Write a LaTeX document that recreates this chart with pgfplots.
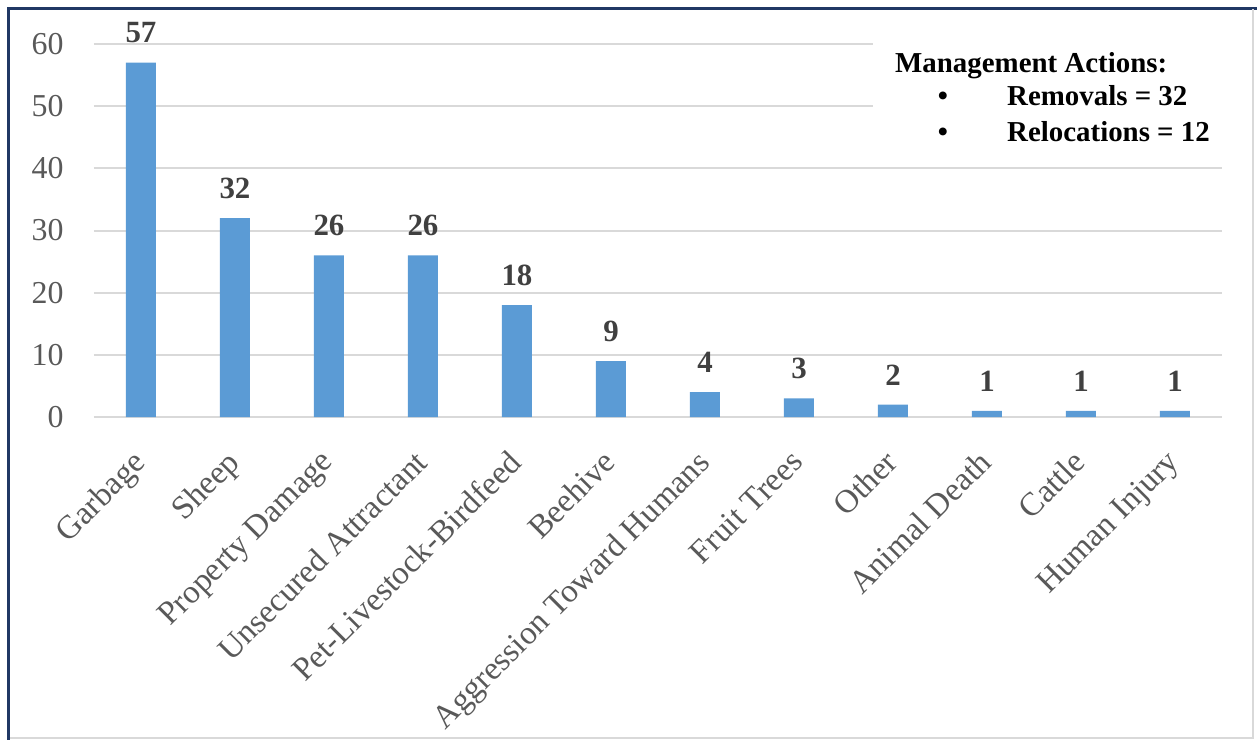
\documentclass[border=0pt]{standalone}
\usepackage{pgfplots}
\pgfplotsset{compat=1.18}
\usepackage{fontspec}
\setmainfont{Liberation Serif}

\definecolor{barblue}{HTML}{5B9BD5}
\definecolor{gridgray}{HTML}{D9D9D9}
\definecolor{ticktext}{HTML}{595959}
\definecolor{valtext}{HTML}{404040}
\definecolor{framenavy}{HTML}{203864}

\begin{document}
\begin{tikzpicture}
% page = 1257 x 740 px, 1px = 1bp, origin at plot area's lower left
\path[use as bounding box] (-94bp,-323bp) rectangle (1163bp,417bp);

\begin{axis}[
    at={(0,0)}, anchor=south west,
    scale only axis,
    width=1128bp, height=373bp,
    clip=false,
    /pgf/number format/assume math mode=true,
    xmin=-0.5, xmax=11.5,
    ymin=0, ymax=60,
    xtick={0,...,11},
    xticklabels={Garbage, Sheep, Property Damage, Unsecured Attractant,
                 Pet-Livestock-Birdfeed, Beehive, Aggression Toward Humans,
                 Fruit Trees, Other, Animal Death, Cattle, Human Injury},
    ytick={0,10,...,60},
    axis line style={draw=none},
    tick style={draw=none},
    ymajorgrids,
    grid style={draw=gridgray, line width=2bp},
    yticklabel style={font=\fontsize{32}{38}\selectfont, text=ticktext,
                      anchor=east, xshift=-27bp},
    xticklabel style={font=\fontsize{33}{40}\selectfont, text=ticktext,
                      rotate=45, anchor=north east, inner sep=0pt,
                      yshift=-12bp, xshift=-26bp},
    ybar, bar width=30bp,
    nodes near coords,
    nodes near coords style={font=\fontsize{31}{37}\selectfont\bfseries,
                             text=valtext, yshift=16bp},
]
\addplot[fill=barblue, draw=none] coordinates {
    (0,57) (1,32) (2,26) (3,26) (4,18) (5,9)
    (6,4) (7,3) (8,2) (9,1) (10,1) (11,1)};
\end{axis}

% text box, white behind it
\fill[white] (779bp,262bp) rectangle (1140bp,392bp);
\begin{scope}[every node/.style={inner sep=0pt,
      font=\fontsize{29}{34}\selectfont\bfseries}]
  \node[anchor=base west] at (801bp,344bp) {Management Actions:};
  \node[anchor=base] at (849bp,311bp) {\textbullet};
  \node[anchor=base west] at (913bp,311bp) {Removals = 32};
  \node[anchor=base] at (849bp,275bp) {\textbullet};
  \node[anchor=base west] at (913bp,275bp) {Relocations = 12};
\end{scope}

% frame
\draw[framenavy, line width=3bp] (-85bp,-323bp) -- (-85bp,408.5bp) -- (1163bp,408.5bp);
\draw[gridgray, line width=2bp] (1159bp,408bp) -- (1159bp,-321bp) -- (-84bp,-321bp);
\end{tikzpicture}
\end{document}
